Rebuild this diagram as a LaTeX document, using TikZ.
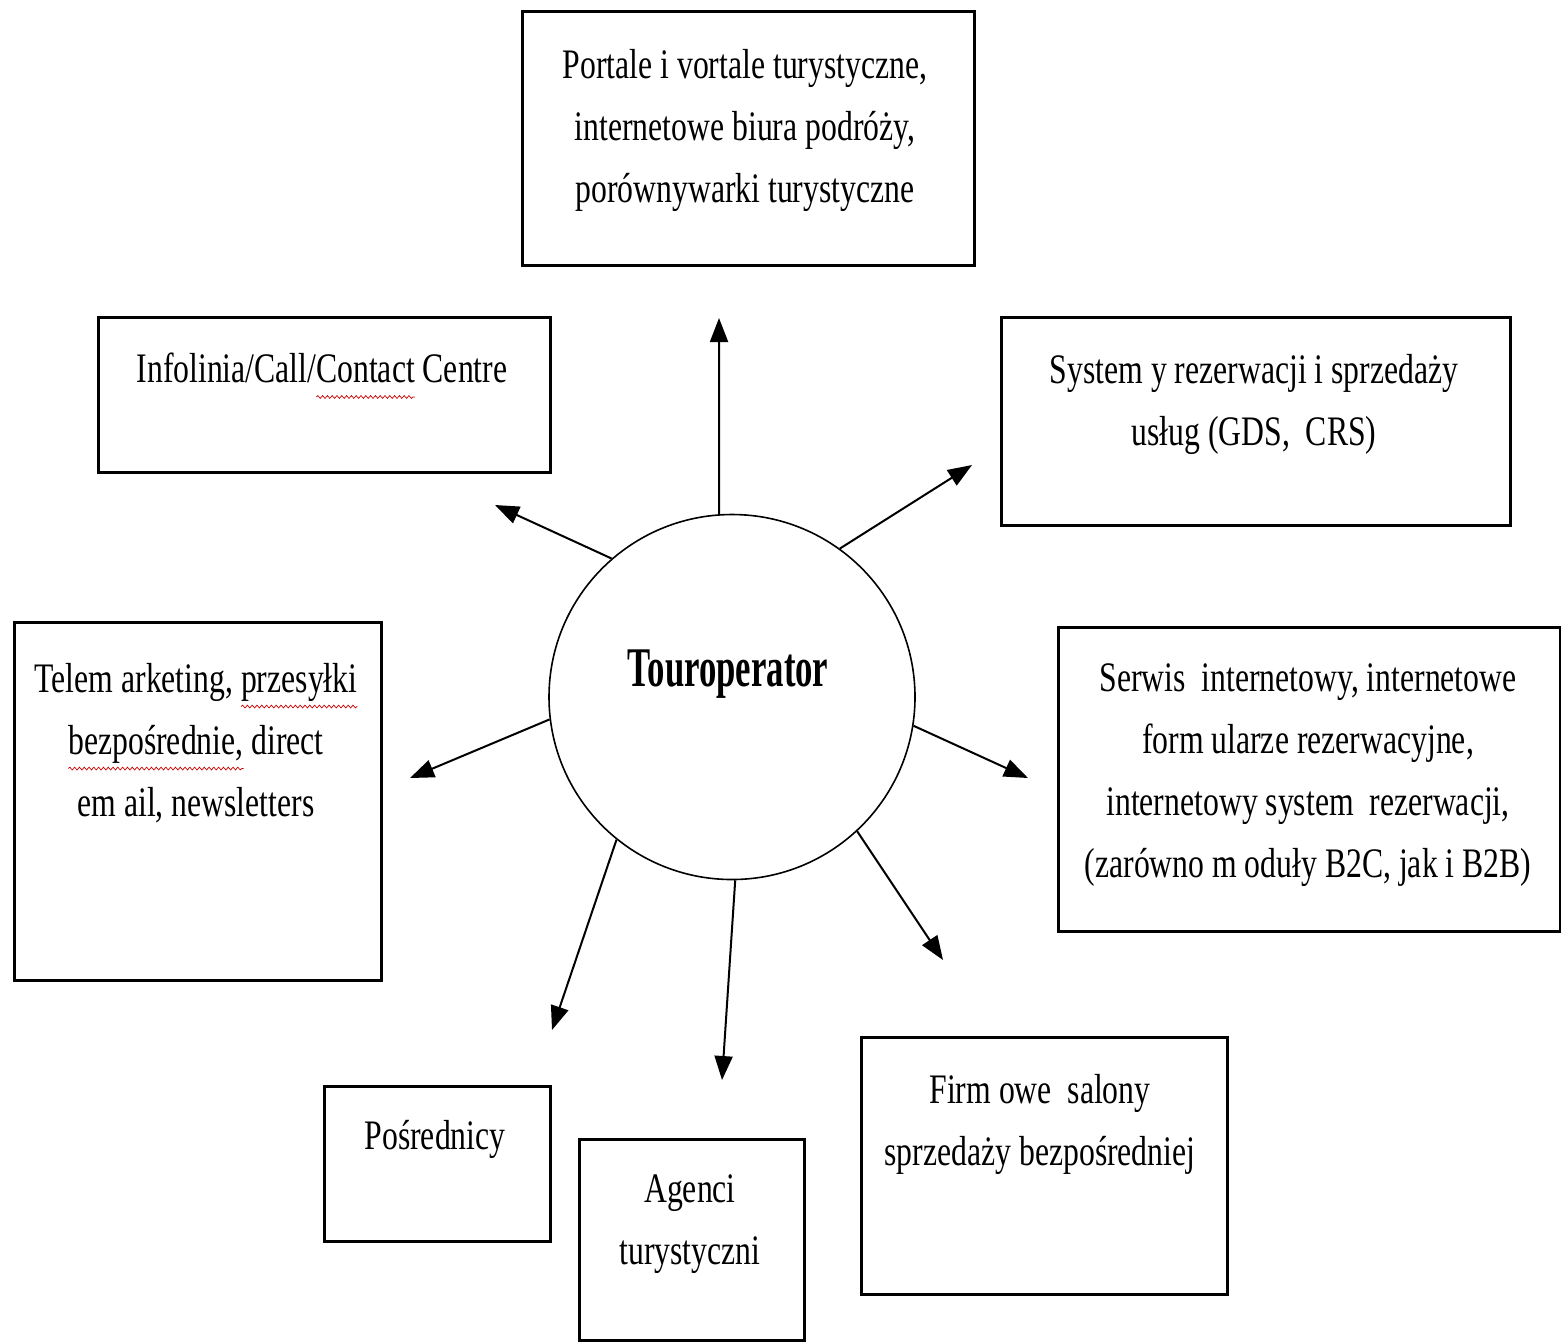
\documentclass[tikz,border=0pt]{standalone}
\usepackage{fontspec}
\setmainfont{Liberation Serif}[FakeStretch=0.755]
\newfontfamily\tofont{Liberation Serif}[FakeStretch=0.62]
\usetikzlibrary{arrows.meta,shapes.geometric,decorations.pathmorphing}
\newsavebox\spellbox
\newcommand\spellmark[1]{\sbox\spellbox{#1}\makebox[0pt][l]{\tikz[overlay]\draw[red!80!black, line width=0.35pt, decorate, decoration={snake, amplitude=0.7pt, segment length=2.4pt}] (0pt,-7pt) -- (\wd\spellbox,-7pt);}\usebox\spellbox}
\begin{document}
\begin{tikzpicture}[x=0.5pt,y=-0.5pt,
  box/.style={draw, line width=1.3pt, inner sep=0pt, anchor=north west},
  txt/.style={align=center, inner sep=0pt, anchor=north, font=\fontsize{21}{31}\selectfont},
  arr/.style={-{Triangle[length=12pt,width=9pt]}, line width=1pt}]
\useasboundingbox[fill=white] (0,0) rectangle (1561,1341);

% boxes
\node[box, minimum width=226pt, minimum height=127pt] (top) at (521,10) {};
\node[box, minimum width=226pt, minimum height=77.5pt] (info) at (97,316) {};
\node[box, minimum width=254.5pt, minimum height=104pt] (sys) at (1000,316) {};
\node[box, minimum width=183.5pt, minimum height=179pt] (tele) at (13,621) {};
\node[box, minimum width=251pt, minimum height=152pt] (serw) at (1057,626) {};
\node[box, minimum width=113pt, minimum height=77.5pt] (posr) at (323,1085) {};
\node[box, minimum width=112.5pt, minimum height=100.5pt] (agen) at (578,1138) {};
\node[box, minimum width=183pt, minimum height=128.5pt] (firm) at (860,1036) {};

% texts
\node[txt] (ttop) at (745,49) {Portale i vortale turystyczne,\\ internetowe biura podróży,\\ porównywarki turystyczne};
\node[txt] (tinfo) at (322,353) {Infolinia/Call/\spellmark{Contact} Centre};
\node[txt] (tsys) at (1254,354) {System y rezerwacji i sprzedaży\\ usług (GDS, \ CRS)};
\node[txt] (ttele) at (196,663) {Telem arketing, \spellmark{przesyłki}\\ \spellmark{bezpośrednie,} direct\\ em ail, newsletters};
\node[txt] (tserw) at (1308,663) {Serwis \ internetowy, internetowe\\ form ularze rezerwacyjne,\\ internetowy system \ rezerwacji,\\ (zarówno m oduły B2C, jak i B2B)};
\node[txt] (tposr) at (435,1120) {Pośrednicy};
\node[txt] (tagen) at (690,1174) {Agenci\\ turystyczni};
\node[txt] (tfirm) at (1040,1074) {Firm owe \ salony\\ sprzedaży bezpośredniej};

% centre
\node[draw, ellipse, line width=0.8pt, minimum width=183pt, minimum height=182.5pt, inner sep=0pt] (to) at (732,697) {};
\node[font=\fontsize{28}{32}\tofont\bfseries, inner sep=0pt] (tolabel) at (728,674) {Touroperator};

% arrow tips
\coordinate (pUp) at (719,318);
\coordinate (pUL) at (495,505);
\coordinate (pUR) at (972,465);
\coordinate (pL) at (410,778);
\coordinate (pR) at (1028,778);
\coordinate (pLL) at (552,1030);
\coordinate (pD) at (722,1080);
\coordinate (pLR) at (943,960);

\draw[arr] (to.94) -- (pUp);
\draw[arr] (to.131.7) -- (pUL);
\draw[arr] (to.54) -- (pUR);
\draw[arr] (to.187.8) -- (pL);
\draw[arr] (to.351) -- (pR);
\draw[arr] (to.231.8) -- (pLL);
\draw[arr] (to.271) -- (pD);
\draw[arr] (to.313.5) -- (pLR);
\end{tikzpicture}
\end{document}
